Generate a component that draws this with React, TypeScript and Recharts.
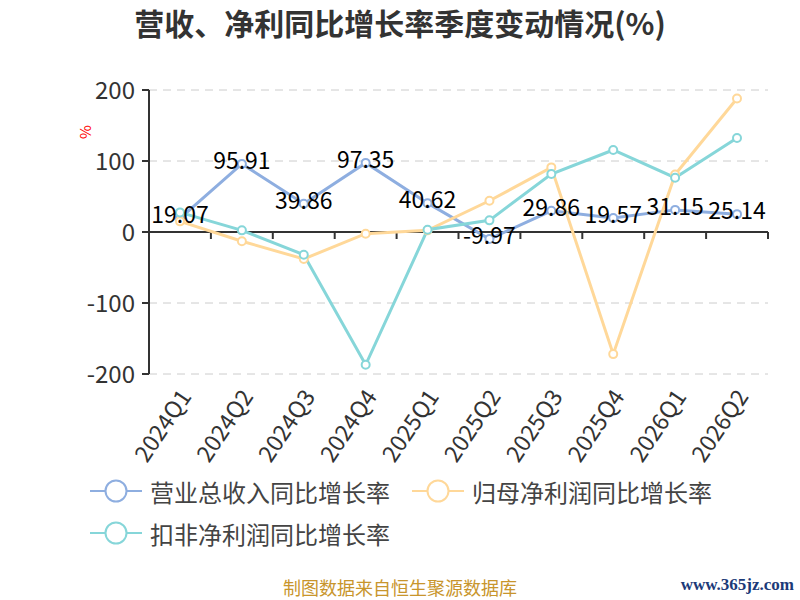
import { LineChart, Line, XAxis, YAxis, CartesianGrid, Legend, ReferenceLine } from 'recharts';

const categories = ['2024Q1', '2024Q2', '2024Q3', '2024Q4', '2025Q1', '2025Q2', '2025Q3', '2025Q4', '2026Q1', '2026Q2'];
const revenueGrowth = [19.07, 95.91, 39.86, 97.35, 40.62, -9.97, 29.86, 19.57, 31.15, 25.14];
const netProfitGrowth = [15, -13, -38, -2.4, 2.3, 44, 91, -172, 81, 188];
const deductedProfitGrowth = [27.6, 2.3, -32, -187, 3.2, 16.4, 81.7, 115.5, 76.5, 132.4];
const yTicks = [-200, -100, 0, 100, 200];

const seriesNames = ['营业总收入同比增长率', '归母净利润同比增长率', '扣非净利润同比增长率'];
const colors = ['#8eaee0', '#ffd899', '#86d6d9'];

const data = categories.map((name, i) => ({
    name,
    revenue: revenueGrowth[i],
    netProfit: netProfitGrowth[i],
    deducted: deductedProfitGrowth[i],
}));

const FONT = '"Noto Sans CJK SC", "Noto Sans", sans-serif';

const XTick = (props: any) => {
    const { x, y, payload } = props;
    return (
        <text
            x={x + 4}
            y={y}
            transform={`rotate(-56, ${x + 4}, ${y})`}
            textAnchor="end"
            dominantBaseline="central"
            fontSize={23}
            fill="#333"
            fontFamily={FONT}
        >
            {payload.value}
        </text>
    );
};

// zero axis line with ticks at the category boundaries
const ZeroAxis = (props: any) => {
    const { x1, x2, y1 } = props;
    const step = (x2 - x1) / categories.length;
    const ticks = [];
    for (let i = 0; i <= categories.length; i++) {
        const tx = x1 + i * step;
        ticks.push(<line key={i} x1={tx} x2={tx} y1={y1} y2={y1 + 7} stroke="#333" strokeWidth={2} />);
    }
    return (
        <g>
            <line x1={x1} x2={x2} y1={y1} y2={y1} stroke="#333" strokeWidth={2} />
            {ticks}
        </g>
    );
};

const renderLegend = () => {
    const item = (i: number) => (
        <div style={{ display: 'flex', alignItems: 'center', height: 42 }}>
            <svg width={52} height={26} style={{ marginRight: 8 }}>
                <line x1={0} x2={52} y1={13} y2={13} stroke={colors[i]} strokeWidth={2} />
                <circle cx={26} cy={13} r={10.5} fill="#fff" stroke={colors[i]} strokeWidth={2} />
            </svg>
            <span style={{ fontSize: 24, color: '#444', fontFamily: FONT }}>{seriesNames[i]}</span>
        </div>
    );
    return (
        <div style={{ height: 90, paddingLeft: 90 }}>
            <div style={{ display: 'flex', gap: 22 }}>
                {item(0)}
                {item(1)}
            </div>
            {item(2)}
        </div>
    );
};

const DataLabel = (props: any) => {
    const { x, y, value } = props;
    return (
        <text x={x} y={y + 5} textAnchor="middle" fontSize={23} fill="#000" fontFamily={FONT}>
            {value}
        </text>
    );
};

export default function App() {
    return (
        <div style={{ position: 'absolute', left: 0, top: 0, width: 800, height: 600, background: '#fff', fontFamily: FONT }}>
            <div style={{ position: 'absolute', top: 0, left: 0, width: 800, textAlign: 'center', fontSize: 30, lineHeight: '44px', fontWeight: 'bold', color: '#333' }}>
                营收、净利同比增长率季度变动情况(%)
            </div>
            <LineChart
                width={800}
                height={600}
                data={data}
                margin={{ top: 90, right: 32, left: 89, bottom: 46 }}
            >
                <CartesianGrid vertical={false} strokeDasharray="8 6" stroke="#ccc" />
                <XAxis
                    dataKey="name"
                    axisLine={false}
                    tickLine={false}
                    height={90}
                    interval={0}
                    padding={{ left: 31, right: 31 }}
                    tick={<XTick />}
                    tickMargin={11}
                />
                <YAxis
                    domain={[-200, 200]}
                    ticks={yTicks}
                    width={60}
                    stroke="#333"
                    axisLine={{ stroke: '#333', strokeWidth: 2 }}
                    tickLine={{ stroke: '#333', strokeWidth: 2 }}
                    tickSize={7}
                    tickMargin={7}
                    tick={{ fontSize: 24, fill: '#333', fontFamily: FONT }}
                    label={{ value: '%', angle: -90, position: 'insideTopLeft', dx: -14, dy: 44, fill: 'red', fontSize: 15 }}
                />
                <ReferenceLine y={0} shape={<ZeroAxis />} />
                <Legend
                    content={renderLegend}
                    wrapperStyle={{ position: 'absolute', top: 470, left: 0, bottom: 'auto', width: 800, height: 90 }}
                />
                <Line
                    dataKey="revenue"
                    name={seriesNames[0]}
                    stroke={colors[0]}
                    strokeWidth={3}
                    dot={{ r: 4, fill: '#fff', stroke: colors[0], strokeWidth: 2 }}
                    label={<DataLabel />}
                    isAnimationActive={false}
                />
                <Line
                    dataKey="netProfit"
                    name={seriesNames[1]}
                    stroke={colors[1]}
                    strokeWidth={3}
                    dot={{ r: 4, fill: '#fff', stroke: colors[1], strokeWidth: 2 }}
                    isAnimationActive={false}
                />
                <Line
                    dataKey="deducted"
                    name={seriesNames[2]}
                    stroke={colors[2]}
                    strokeWidth={3}
                    dot={{ r: 4, fill: '#fff', stroke: colors[2], strokeWidth: 2 }}
                    isAnimationActive={false}
                />
            </LineChart>
            <div style={{ position: 'absolute', top: 577, left: 0, width: 800, textAlign: 'center', fontSize: 18, lineHeight: '20px', color: '#c8952c' }}>
                制图数据来自恒生聚源数据库
            </div>
            <div style={{ position: 'absolute', top: 575, right: 6, fontSize: 17, lineHeight: '20px', fontWeight: 'bold', color: '#1c3a78', fontFamily: '"Liberation Serif", serif' }}>
                www.365jz.com
            </div>
        </div>
    );
}
